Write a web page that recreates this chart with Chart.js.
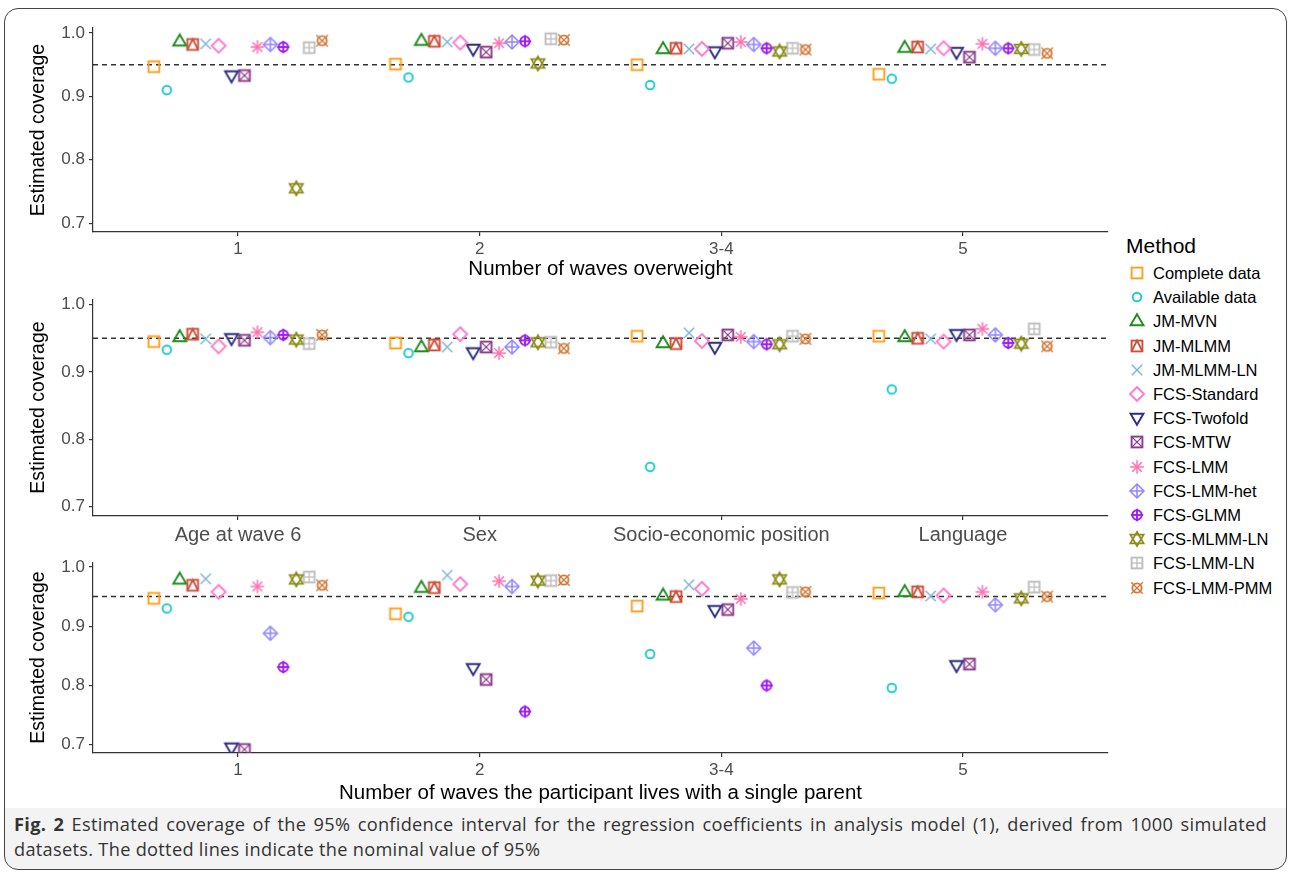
<!DOCTYPE html>
<html><head><meta charset="utf-8">
<script src="https://cdn.jsdelivr.net/npm/chart.js@4.4.1/dist/chart.umd.min.js"></script>
<style>
html,body{margin:0;padding:0;background:#fff;}
#wrap{position:relative;width:1292px;height:877px;overflow:hidden;font-family:"Liberation Sans",Arial,sans-serif;}
canvas.panel{position:absolute;left:0;}
#frame{position:absolute;left:4px;top:8px;width:1283px;height:862px;border:1.5px solid #444;border-radius:14px;box-sizing:border-box;}
#capbg{position:absolute;left:5px;top:808px;width:1281px;height:61px;background:#f3f3f3;border-radius:0 0 13px 13px;}
#caption{position:absolute;left:14px;top:812px;width:1253px;font-family:"Open Sans",sans-serif;font-size:18.2px;letter-spacing:0.3px;line-height:25px;color:#333;text-align:justify;}
#caption b{font-weight:700;}
#legend{position:absolute;left:1118px;top:232px;}
#legend .ttl{position:absolute;left:8px;top:2px;font-size:21px;color:#000;white-space:nowrap;}
#legend .row{position:absolute;left:10px;height:20px;white-space:nowrap;}
#legend .row canvas{position:absolute;left:0;top:0;}
#legend .row span{position:absolute;left:25px;top:0px;font-size:16.5px;color:#000;}
</style></head>
<body><div id="wrap">
<div id="capbg"></div>
<div id="frame"></div>
<canvas id="c1" class="panel" width="1115" height="285" style="top:0"></canvas>
<canvas id="c2" class="panel" width="1115" height="263" style="top:285px"></canvas>
<canvas id="c3" class="panel" width="1115" height="258" style="top:548px"></canvas>
<div id="legend"><div class="ttl">Method</div></div>
<div id="caption"><b>Fig. 2</b> Estimated coverage of the 95% confidence interval for the regression coefficients in analysis model (1), derived from 1000 simulated datasets. The dotted lines indicate the nominal value of 95%</div>
</div>
<script>
const methods = ['Complete data','Available data','JM-MVN','JM-MLMM','JM-MLMM-LN','FCS-Standard','FCS-Twofold','FCS-MTW','FCS-LMM','FCS-LMM-het','FCS-GLMM','FCS-MLMM-LN','FCS-LMM-LN','FCS-LMM-PMM'];
const NOMINAL = 0.95;
const yTickValues = [0.7, 0.8, 0.9, 1.0];

// Panel 1: Number of waves overweight
const overweightCategories = ['1','2','3-4','5'];
const overweight_1  = [0.947,0.910,0.987,0.982,0.983,0.980,0.933,0.933,0.978,0.982,0.978,0.755,0.977,0.988];
const overweight_2  = [0.951,0.930,0.988,0.987,0.986,0.985,0.975,0.970,0.984,0.986,0.987,0.952,0.991,0.989];
const overweight_34 = [0.950,0.918,0.975,0.976,0.975,0.975,0.971,0.984,0.986,0.982,0.976,0.971,0.976,0.974];
const overweight_5  = [0.935,0.928,0.977,0.978,0.975,0.976,0.970,0.962,0.983,0.976,0.976,0.975,0.974,0.968];

// Panel 2: covariates
const covariateCategories = ['Age at wave 6','Sex','Socio-economic position','Language'];
const cov_age      = [0.945,0.933,0.952,0.956,0.949,0.938,0.950,0.947,0.959,0.951,0.955,0.948,0.942,0.955];
const cov_sex      = [0.943,0.928,0.937,0.940,0.937,0.956,0.929,0.937,0.928,0.937,0.947,0.944,0.944,0.935];
const cov_sep      = [0.953,0.759,0.943,0.942,0.958,0.946,0.937,0.955,0.952,0.945,0.941,0.941,0.953,0.949];
const cov_language = [0.953,0.874,0.952,0.950,0.949,0.945,0.956,0.955,0.964,0.955,0.943,0.942,0.964,0.938];

// Panel 3: Number of waves with a single parent
const singleParentCategories = ['1','2','3-4','5'];
const single_1  = [0.947,0.930,0.979,0.969,0.980,0.958,0.695,0.692,0.967,0.888,0.831,0.979,0.983,0.969];
const single_2  = [0.921,0.916,0.965,0.965,0.986,0.971,0.829,0.810,0.976,0.967,0.756,0.977,0.977,0.978];
const single_34 = [0.934,0.853,0.952,0.950,0.970,0.963,0.927,0.928,0.946,0.863,0.800,0.979,0.957,0.958];
const single_5  = [0.956,0.796,0.958,0.958,0.951,0.952,0.834,0.836,0.958,0.936,null, 0.947,0.966,0.950];

const overweightValues = [overweight_1, overweight_2, overweight_34, overweight_5];
const covariateValues = [cov_age, cov_sex, cov_sep, cov_language];
const singleParentValues = [single_1, single_2, single_34, single_5];

// styles
const colors = ['#FF9E1B','#1CCBD0','#1E8C1E','#CF4E3A','#7EB6E0','#FF7BCB','#2D2D7F','#8A3C8A','#FF6FB0','#8F85FF','#9E1FF0','#8C8C1A','#BEBEBE','#D07A3A'];
const shapes = ['square','circle','triangle','squareTriangle','cross','diamond','triangleDown','squareCross','asterisk','diamondPlus','circlePlus','star','squarePlus','circleCross'];
const FONT = '"Liberation Sans", Arial, sans-serif';
const DODGE = 0.75;

function makeMarker(shape, color) {
  const c = document.createElement('canvas'); c.width = 18; c.height = 18;
  const g = c.getContext('2d');
  g.translate(9, 9); g.strokeStyle = color; g.lineWidth = 1.9; g.lineJoin = 'miter';
  const sq = 5.4;
  const line = (x1,y1,x2,y2)=>{g.beginPath();g.moveTo(x1,y1);g.lineTo(x2,y2);g.stroke();};
  const square = ()=>g.strokeRect(-sq,-sq,2*sq,2*sq);
  const circle = (r)=>{g.beginPath();g.arc(0,0,r,0,Math.PI*2);g.stroke();};
  const tri = (dir,r)=>{g.beginPath();g.moveTo(0,-r*dir);g.lineTo(r*0.95,r*0.62*dir);g.lineTo(-r*0.95,r*0.62*dir);g.closePath();g.stroke();};
  const diamond = (r)=>{g.beginPath();g.moveTo(0,-r);g.lineTo(r,0);g.lineTo(0,r);g.lineTo(-r,0);g.closePath();g.stroke();};
  const plus = (r)=>{line(-r,0,r,0);line(0,-r,0,r);};
  const xx = (r)=>{line(-r,-r,r,r);line(-r,r,r,-r);};
  switch(shape){
    case 'square': square(); break;
    case 'circle': circle(4.3); break;
    case 'triangle': tri(1,6.8); break;
    case 'triangleDown': tri(-1,6.8); break;
    case 'squareTriangle': square(); g.beginPath(); g.moveTo(-sq,sq); g.lineTo(0,-sq); g.lineTo(sq,sq); g.stroke(); break;
    case 'cross': g.lineWidth=1.5; xx(5.2); break;
    case 'diamond': diamond(7); break;
    case 'squareCross': square(); g.lineWidth=1.3; xx(sq); break;
    case 'asterisk': g.lineWidth=1.5; plus(6.8); xx(4.8); break;
    case 'diamondPlus': g.lineWidth=1.5; diamond(7); plus(7); break;
    case 'circlePlus': circle(4.7); plus(6.2); break;
    case 'star': g.lineWidth=1.7; tri(1,7); tri(-1,7); break;
    case 'squarePlus': square(); g.lineWidth=1.3; plus(sq); break;
    case 'circleCross': circle(4.6); g.lineWidth=1.3; xx(5.8); break;
  }
  return c;
}
const markers = methods.map((m,j)=>makeMarker(shapes[j], colors[j]));

function dodge(j) { return -DODGE/2 + (j + 0.5) * DODGE / methods.length; }

function makeChart(id, cats, vals, o) {
  const datasets = methods.map((m, j) => ({
    label: m,
    data: cats.map((c, i) => ({x: i + dodge(j), y: vals[i][j]})).filter(p => p.y !== null),
    pointStyle: markers[j], pointRadius: 6, showLine: false, order: 0
  }));
  datasets.push({
    type: 'line', label: 'nominal',
    data: [{x: -0.6, y: NOMINAL}, {x: 3.6, y: NOMINAL}],
    borderColor: '#333', borderWidth: 1.4, borderDash: [5, 4], pointRadius: 0, order: 1
  });
  return new Chart(document.getElementById(id), {
    type: 'scatter',
    data: {datasets},
    options: {
      responsive: false, animation: false, devicePixelRatio: 1,
      layout: {padding: {top: o.padTop, right: 5, left: 0, bottom: 0}},
      plugins: {legend: {display: false}, tooltip: {enabled: false}},
      scales: {
        x: {
          type: 'linear', min: -0.6, max: 3.6,
          afterBuildTicks: s => { s.ticks = cats.map((c, i) => ({value: i})); },
          afterFit: s => { s.height = o.xAxisH; },
          ticks: {callback: v => cats[v], font: {size: o.xTickSize, family: FONT}, color: '#4d4d4d', padding: 3, maxRotation: 0, autoSkip: false},
          grid: {display: true, drawOnChartArea: false, drawTicks: true, tickLength: 4, color: '#333', lineWidth: 1.2},
          border: {display: true, color: '#333', width: 1.2},
          title: {display: !!o.xTitle, text: o.xTitle || '', font: {size: 20.5, family: FONT}, color: '#000', padding: {top: 0, bottom: o.xTitlePad || 0}}
        },
        y: {
          type: 'linear', min: 0.686, max: 1.008,
          afterBuildTicks: s => { s.ticks = yTickValues.map(v => ({value: v})); },
          afterFit: s => { s.width = 93; },
          ticks: {callback: v => Number(v).toFixed(1), font: {size: 17, family: FONT}, color: '#4d4d4d', padding: 4},
          grid: {display: true, drawOnChartArea: false, drawTicks: true, tickLength: 4, color: '#333', lineWidth: 1.2},
          border: {display: true, color: '#333', width: 1.2},
          title: {display: true, text: 'Estimated coverage', font: {size: 19.5, family: FONT}, color: '#000', padding: {top: 27, bottom: 0}}
        }
      }
    }
  });
}

makeChart('c1', overweightCategories, overweightValues, {padTop: 28, xAxisH: 53, xTickSize: 17, xTitle: 'Number of waves overweight', xTitlePad: 3});
makeChart('c2', covariateCategories, covariateValues, {padTop: 5, xAxisH: 32, xTickSize: 20});
makeChart('c3', singleParentCategories, singleParentValues, {padTop: 7, xAxisH: 53, xTickSize: 17, xTitle: 'Number of waves the participant lives with a single parent', xTitlePad: 0});

// legend
const legend = document.getElementById('legend');
methods.forEach((m, j) => {
  const row = document.createElement('div');
  row.className = 'row';
  row.style.top = (32 + j * 24.2) + 'px';
  const cv = document.createElement('canvas'); cv.width = 18; cv.height = 18;
  cv.getContext('2d').drawImage(markers[j], 0, 0);
  const sp = document.createElement('span'); sp.textContent = m;
  row.appendChild(cv); row.appendChild(sp);
  legend.appendChild(row);
});
</script>
</body></html>
